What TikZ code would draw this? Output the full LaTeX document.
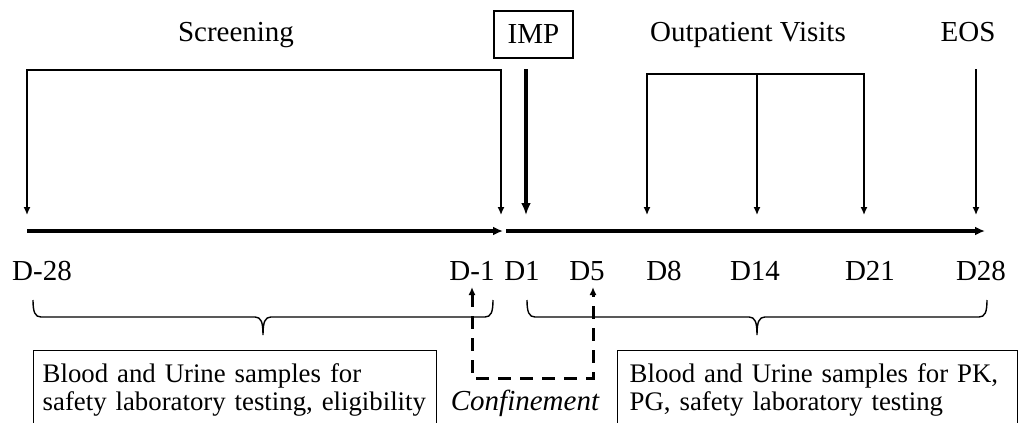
\documentclass[tikz,border=0pt]{standalone}
\usepackage{fontspec}
\setmainfont{Liberation Serif}
\usetikzlibrary{arrows.meta}

\tikzset{
  lbl/.style={font=\fontsize{29}{29}\selectfont, inner sep=0pt, anchor=base},
  thinline/.style={line width=1.4pt, line join=miter},
  visit/.style={thinline, -{Latex[length=8pt,width=7pt]}},
  visits/.style={thinline, {Latex[length=8pt,width=7pt]}-{Latex[length=8pt,width=7pt]}},
  timeaxis/.style={line width=3.2pt, -{Latex[length=10pt,width=9pt]}},
  dose/.style={line width=3.2pt, -{Latex[length=12pt,width=10pt]}},
  samplebox/.style={draw, line width=1.4pt, anchor=north west, align=left,
    inner ysep=12.5pt, font=\fontsize{26.8}{28}\selectfont},
  confine/.style={line width=3pt, line join=miter, dash pattern=on 13pt off 9pt,
    {Latex[length=8pt,width=7pt]}-{Latex[length=8pt,width=7pt]}}
}

% #1 left x, #2 right x, #3 top y
\newcommand{\phasebrace}[3]{%
  \pgfmathsetmacro{\bmid}{(#1+#2)/2}
  \draw[thinline] (#1,#3) .. controls (#1,#3+12) and (#1+2,#3+17) .. (#1+8,#3+17)
    -- (\bmid-8,#3+17) .. controls (\bmid-2,#3+17) and (\bmid,#3+22) .. (\bmid,#3+35)
    .. controls (\bmid,#3+22) and (\bmid+2,#3+17) .. (\bmid+8,#3+17)
    -- (#2-8,#3+17) .. controls (#2-2,#3+17) and (#2,#3+12) .. (#2,#3);
}

\begin{document}
\begin{tikzpicture}[x=1pt,y=-1pt]
\clip (0,0) rectangle (1018,423);

% phases on top
\node[lbl] (screening) at (236,41) {Screening};
\node[draw, line width=1.4pt, font=\fontsize{29}{29}\selectfont, inner xsep=13.7pt, inner ysep=13.9pt] (imp) at (533.5,34.5) {IMP};
\node[lbl] (outpat) at (748,41) {Outpatient Visits};
\node[lbl] (eos) at (968,41) {EOS};

% days
\node[lbl] (dm28) at (42,280) {D-28};
\node[lbl] (dm1) at (472,280) {D-1};
\node[lbl] (d1) at (522,280) {D1};
\node[lbl] (d5) at (587,280) {D5};
\node[lbl] (d8) at (664,280) {D8};
\node[lbl] (d14) at (755,280) {D14};
\node[lbl] (d21) at (870,280) {D21};
\node[lbl] (d28) at (981,280) {D28};

% time line
\coordinate (axstart) at (27,231);
\coordinate (axmid1) at (503,231);
\coordinate (axmid2) at (506,231);
\coordinate (axend) at (985,231);
\draw[timeaxis] (axstart) -- (axmid1);
\draw[timeaxis] (axmid2) -- (axend);

% screening visits
\coordinate (scrtop1) at (27,70);
\coordinate (scrtop2) at (501,70);
\coordinate (scrtip1) at (27,215);
\coordinate (scrtip2) at (501,215);
\draw[visits] (scrtip1) -- (scrtop1) -- (scrtop2) -- (scrtip2);

% dosing
\coordinate (impfrom) at (526,69);
\coordinate (impto) at (526,215);
\draw[dose] (impfrom) -- (impto);

% outpatient visits
\foreach \i/\x in {1/647,2/757,3/864}{
  \coordinate (ovtop\i) at (\x,74);
  \coordinate (ovtip\i) at (\x,215);
}
\draw[visits] (ovtip1) -- (ovtop1) -- (ovtop3) -- (ovtip3);
\draw[visit] (ovtop2) -- (ovtip2);

% end of study
\coordinate (eosfrom) at (976,69);
\coordinate (eosto) at (976,215);
\draw[visit] (eosfrom) -- (eosto);

% braces
\phasebrace{33}{493}{300}
\phasebrace{527}{987}{300}

% confinement
\coordinate (cftip1) at (472,287);
\coordinate (cftip2) at (593,287);
\coordinate (cfbot1) at (472,378);
\coordinate (cfbot2) at (593,378);
\draw[confine] (cftip1) -- (cfbot1) -- (cfbot2) -- (cftip2);
\node[lbl, font=\fontsize{29}{29}\selectfont\itshape] (confinement) at (525,410) {Confinement};

% samples
\node[samplebox, text width=385pt, inner xsep=9pt] (scrsamples) at (33,350)
  {Blood and Urine samples for\\\mbox{safety laboratory testing, eligibility}};
\node[samplebox, text width=376pt, inner xsep=12pt] (studysamples) at (617,350)
  {Blood and Urine samples for PK,\\\mbox{PG, safety laboratory testing}};
\end{tikzpicture}
\end{document}
